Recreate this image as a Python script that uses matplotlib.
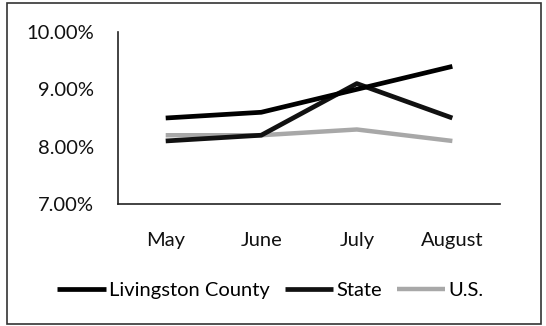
import matplotlib.pyplot as plt
from matplotlib.patches import Rectangle
from matplotlib.ticker import FuncFormatter

# ---- DATA ----
months = ["May", "June", "July", "August"]
livingston = [8.5, 8.6, 9.0, 9.4]
state = [8.1, 8.2, 9.1, 8.5]
us = [8.2, 8.2, 8.3, 8.1]

plt.rcParams["font.family"] = ["Lato", "DejaVu Sans"]

fig = plt.figure(figsize=(5.46, 3.26), dpi=100)
ax = fig.add_axes([0.216, 0.374, 0.70, 0.528])

x = range(len(months))
ax.plot(x, us, color="#a8a8a8", lw=3.2, label="U.S.", zorder=2, solid_capstyle="butt")
ax.plot(x, state, color="#111111", lw=3.4, label="State", zorder=3, solid_capstyle="butt")
ax.plot(x, livingston, color="#000000", lw=3.4, label="Livingston County", zorder=4,
        solid_capstyle="butt")

ax.set_xlim(-0.5, len(months) - 0.5)
ax.set_ylim(7, 10)
ax.set_yticks([7, 8, 9, 10])
ax.yaxis.set_major_formatter(FuncFormatter(lambda v, _: f"{v:.2f}%"))
ax.set_xticks(list(x))
ax.set_xticklabels(months)
ax.tick_params(axis="both", length=0, labelsize=14.5, colors="#111111")
ax.tick_params(axis="y", pad=17)
ax.tick_params(axis="x", pad=20)

for side in ["top", "right"]:
    ax.spines[side].set_visible(False)
for side in ["left", "bottom"]:
    ax.spines[side].set_color("#222222")
    ax.spines[side].set_linewidth(1.2)

handles, labels = ax.get_legend_handles_labels()
order = [2, 1, 0]
fig.legend([handles[i] for i in order], [labels[i] for i in order],
           loc="center", bbox_to_anchor=(0.495, 0.11), ncol=3, frameon=False,
           fontsize=14.5, handlelength=2.4, handletextpad=0.15, columnspacing=0.75)

# outer chart border
fig.patches.append(Rectangle((0.012, 0.005), 0.978, 0.985, transform=fig.transFigure,
                             fill=False, edgecolor="#333333", lw=1.2))

plt.savefig("out.png", dpi=100)
